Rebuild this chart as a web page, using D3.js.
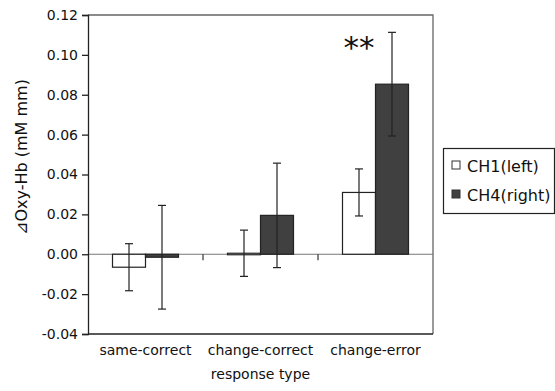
<!DOCTYPE html>
<html>
<head>
<meta charset="utf-8">
<script src="https://cdn.jsdelivr.net/npm/d3@7"></script>
<style>
  body { margin: 0; background: #fff; }
  text { font-family: "DejaVu Sans", sans-serif; fill: #111; }
</style>
</head>
<body>
<script>
var categories = ['same-correct', 'change-correct', 'change-error'];
var seriesNames = ['CH1(left)', 'CH4(right)'];
var ch1Values = [-0.0065, 0.0005, 0.031];
var ch1Errors = [0.0118, 0.0116, 0.0118];
var ch4Values = [-0.0015, 0.0195, 0.0853];
var ch4Errors = [0.026, 0.0262, 0.026];
var yTicks = [-0.04, -0.02, 0.00, 0.02, 0.04, 0.06, 0.08, 0.10, 0.12];

var colors = ['#ffffff', '#404040'];

var plotLeft = 88, plotRight = 433, plotTop = 15, plotBottom = 334;

var svg = d3.select('body').append('svg').attr('width', 555).attr('height', 391);

var x0 = d3.scaleBand().domain(categories).range([plotLeft, plotRight]).padding(0);
var x1 = d3.scaleBand().domain(seriesNames).range([24.5, x0.bandwidth() - 24.5]).padding(0);
var y = d3.scaleLinear().domain([-0.04, 0.12]).range([plotBottom, plotTop]);

// plot frame: top and right in grey
svg.append('path')
  .attr('d', 'M' + plotLeft + ',' + plotTop + 'H' + plotRight + 'V' + plotBottom)
  .attr('fill', 'none').attr('stroke', '#666').attr('stroke-width', 1.3);

// zero line
svg.append('line')
  .attr('x1', plotLeft).attr('x2', plotRight)
  .attr('y1', y(0)).attr('y2', y(0))
  .attr('stroke', '#777').attr('stroke-width', 1.2);

// category separators on the zero line
svg.selectAll('line.sep')
  .data(categories.slice(1))
  .enter().append('line')
    .attr('class', 'sep')
    .attr('x1', function(d) { return x0(d); })
    .attr('x2', function(d) { return x0(d); })
    .attr('y1', y(0)).attr('y2', y(0) + 6)
    .attr('stroke', '#333').attr('stroke-width', 1.2);

var rows = [];
categories.forEach(function(c, i) {
  rows.push({cat: c, s: 0, v: ch1Values[i], e: ch1Errors[i]});
  rows.push({cat: c, s: 1, v: ch4Values[i], e: ch4Errors[i]});
});

svg.selectAll('rect.bar')
  .data(rows)
  .enter().append('rect')
    .attr('class', 'bar')
    .attr('x', function(d) { return x0(d.cat) + x1(seriesNames[d.s]); })
    .attr('width', x1.bandwidth())
    .attr('y', function(d) { return Math.min(y(d.v), y(0)); })
    .attr('height', function(d) { return Math.max(Math.abs(y(d.v) - y(0)), 1.5); })
    .attr('fill', function(d) { return colors[d.s]; })
    .attr('stroke', '#222').attr('stroke-width', 1.2);

var err = svg.selectAll('g.err')
  .data(rows)
  .enter().append('g')
    .attr('class', 'err')
    .attr('transform', function(d) { return 'translate(' + (x0(d.cat) + x1(seriesNames[d.s]) + x1.bandwidth() / 2) + ',0)'; });
err.append('line')
  .attr('y1', function(d) { return y(d.v + d.e); })
  .attr('y2', function(d) { return y(d.v - d.e); })
  .attr('stroke', '#222').attr('stroke-width', 1.2);
err.append('line')
  .attr('x1', -4).attr('x2', 4)
  .attr('y1', function(d) { return y(d.v + d.e); })
  .attr('y2', function(d) { return y(d.v + d.e); })
  .attr('stroke', '#222').attr('stroke-width', 1.2);
err.append('line')
  .attr('x1', -4).attr('x2', 4)
  .attr('y1', function(d) { return y(d.v - d.e); })
  .attr('y2', function(d) { return y(d.v - d.e); })
  .attr('stroke', '#222').attr('stroke-width', 1.2);

// y axis (plain hyphen for negatives, like the original)
var yAxis = svg.append('g')
  .attr('transform', 'translate(' + plotLeft + ',0)')
  .call(d3.axisLeft(y).tickValues(yTicks).tickFormat(function(d) { return d.toFixed(2); }).tickSize(6).tickPadding(4));
yAxis.selectAll('text').attr('font-size', 14).style('font-family', '"DejaVu Sans", sans-serif').attr('fill', '#111');
yAxis.selectAll('line, path').attr('stroke', '#222').attr('stroke-width', 1.3);

// bottom axis line
svg.append('line')
  .attr('x1', plotLeft).attr('x2', plotRight)
  .attr('y1', plotBottom).attr('y2', plotBottom)
  .attr('stroke', '#222').attr('stroke-width', 1.5);

svg.selectAll('text.cat')
  .data(categories)
  .enter().append('text')
    .attr('class', 'cat')
    .attr('x', function(d) { return x0(d) + x0.bandwidth() / 2; })
    .attr('y', 355)
    .attr('text-anchor', 'middle')
    .attr('font-size', 14)
    .text(function(d) { return d; });

svg.append('text')
  .attr('x', (plotLeft + plotRight) / 2)
  .attr('y', 379)
  .attr('text-anchor', 'middle')
  .attr('font-size', 14)
  .text('response type');

svg.append('text')
  .attr('transform', 'translate(27,157) rotate(-90)')
  .attr('text-anchor', 'middle')
  .attr('font-size', 16)
  .text('⊿Oxy-Hb (mM mm)');

// significance mark
svg.append('text')
  .attr('x', x0('change-error') + x1('CH1(left)') + x1.bandwidth() / 2)
  .attr('y', 58)
  .attr('text-anchor', 'middle')
  .attr('font-size', 31)
  .text('**');

// legend
svg.append('rect')
  .attr('x', 443.5).attr('y', 148.5)
  .attr('width', 111).attr('height', 65)
  .attr('fill', '#fff').attr('stroke', '#222').attr('stroke-width', 1.2);
var leg = svg.selectAll('g.leg')
  .data(seriesNames)
  .enter().append('g')
    .attr('class', 'leg')
    .attr('transform', function(d, i) { return 'translate(452,' + (161 + i * 29) + ')'; });
leg.append('rect')
  .attr('width', 8).attr('height', 8)
  .attr('fill', function(d, i) { return colors[i]; })
  .attr('stroke', '#333').attr('stroke-width', 1);
leg.append('text')
  .attr('x', 15).attr('y', 11)
  .attr('font-size', 16)
  .text(function(d) { return d; });
</script>
</body>
</html>
